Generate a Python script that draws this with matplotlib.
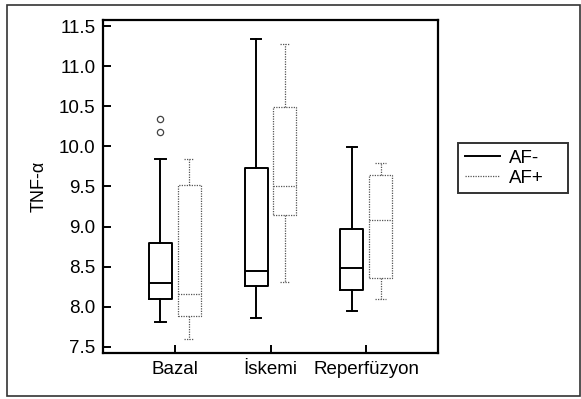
import matplotlib
matplotlib.use("Agg")
import matplotlib.pyplot as plt
from matplotlib.patches import Rectangle
from matplotlib.lines import Line2D

plt.rcParams["font.family"] = ["Liberation Sans", "DejaVu Sans"]

groups = ["Bazal", "İskemi", "Reperfüzyon"]

# whisker low, Q1, median, Q3, whisker high
af_minus_low = [7.81, 7.86, 7.95]
af_minus_q1 = [8.10, 8.26, 8.21]
af_minus_med = [8.30, 8.45, 8.48]
af_minus_q3 = [8.80, 9.73, 8.97]
af_minus_high = [9.84, 11.34, 9.99]
af_minus_fliers = [[10.18, 10.34], [], []]

af_plus_low = [7.60, 8.31, 8.10]
af_plus_q1 = [7.88, 9.14, 8.36]
af_plus_med = [8.16, 9.50, 9.08]
af_plus_q3 = [9.52, 10.49, 9.64]
af_plus_high = [9.84, 11.28, 9.79]
af_plus_fliers = [[], [], []]


def make_stats(low, q1, med, q3, high, fliers):
    return [
        {"whislo": a, "q1": b, "med": c, "q3": d, "whishi": e, "fliers": f}
        for a, b, c, d, e, f in zip(low, q1, med, q3, high, fliers)
    ]


fig = plt.figure(figsize=(5.81, 3.99), dpi=100)
ax = fig.add_axes([103 / 581, 1 - 353 / 399, 335 / 581, 333 / 399])

pos = [1, 2, 3]
fs = 13.5
solid = dict(color="black", linewidth=1.4, linestyle="-")
dotted = dict(color="#555555", linewidth=0.9, linestyle=(0, (1, 1)))

ax.bxp(
    make_stats(af_minus_low, af_minus_q1, af_minus_med, af_minus_q3, af_minus_high, af_minus_fliers),
    positions=[p - 0.15 for p in pos], widths=0.24, capwidths=0.11,
    boxprops=solid, whiskerprops=solid, capprops=solid, medianprops=solid,
    flierprops=dict(marker="o", markersize=4.5, markerfacecolor="none",
                    markeredgecolor="#444444", markeredgewidth=0.9),
    manage_ticks=False,
)
ax.bxp(
    make_stats(af_plus_low, af_plus_q1, af_plus_med, af_plus_q3, af_plus_high, af_plus_fliers),
    positions=[p + 0.15 for p in pos], widths=0.24, capwidths=0.11,
    boxprops=dotted, whiskerprops=dotted, capprops=dotted, medianprops=dotted,
    manage_ticks=False,
)

ax.set_xlim(0.25, 3.75)
ax.set_ylim(7.425, 11.575)
ax.set_xticks(pos)
ax.set_xticklabels(groups, fontsize=fs)
ax.set_yticks([7.5, 8.0, 8.5, 9.0, 9.5, 10.0, 10.5, 11.0, 11.5])
ax.set_yticklabels(["7.5", "8.0", "8.5", "9.0", "9.5", "10.0", "10.5", "11.0", "11.5"], fontsize=fs)
ax.tick_params(direction="in", length=6, width=1.4)
ax.tick_params(axis="x", pad=6)
ax.tick_params(axis="y", pad=5.5)
for s in ax.spines.values():
    s.set_linewidth(1.6)
ax.set_ylabel("TNF-α", fontsize=13, labelpad=8)

handles = [
    Line2D([0], [0], **solid),
    Line2D([0], [0], **dotted),
]
leg = fig.legend(handles, ["AF-", "AF+"], loc="upper left",
                 bbox_to_anchor=(458 / 581, 1 - 195 / 399, 110 / 581, 52 / 399),
                 mode="expand", borderaxespad=0,
                 fontsize=fs, frameon=True, fancybox=False, edgecolor="black",
                 handlelength=1.9, borderpad=0.35, labelspacing=0.15,
                 handletextpad=0.45)
leg.get_frame().set_linewidth(1.4)

fig.patches.append(Rectangle((7 / 581, 3 / 399), 573 / 581, 391 / 399,
                             transform=fig.transFigure, fill=False,
                             edgecolor="#333333", linewidth=1.2))

fig.savefig("out.png", dpi=100)
